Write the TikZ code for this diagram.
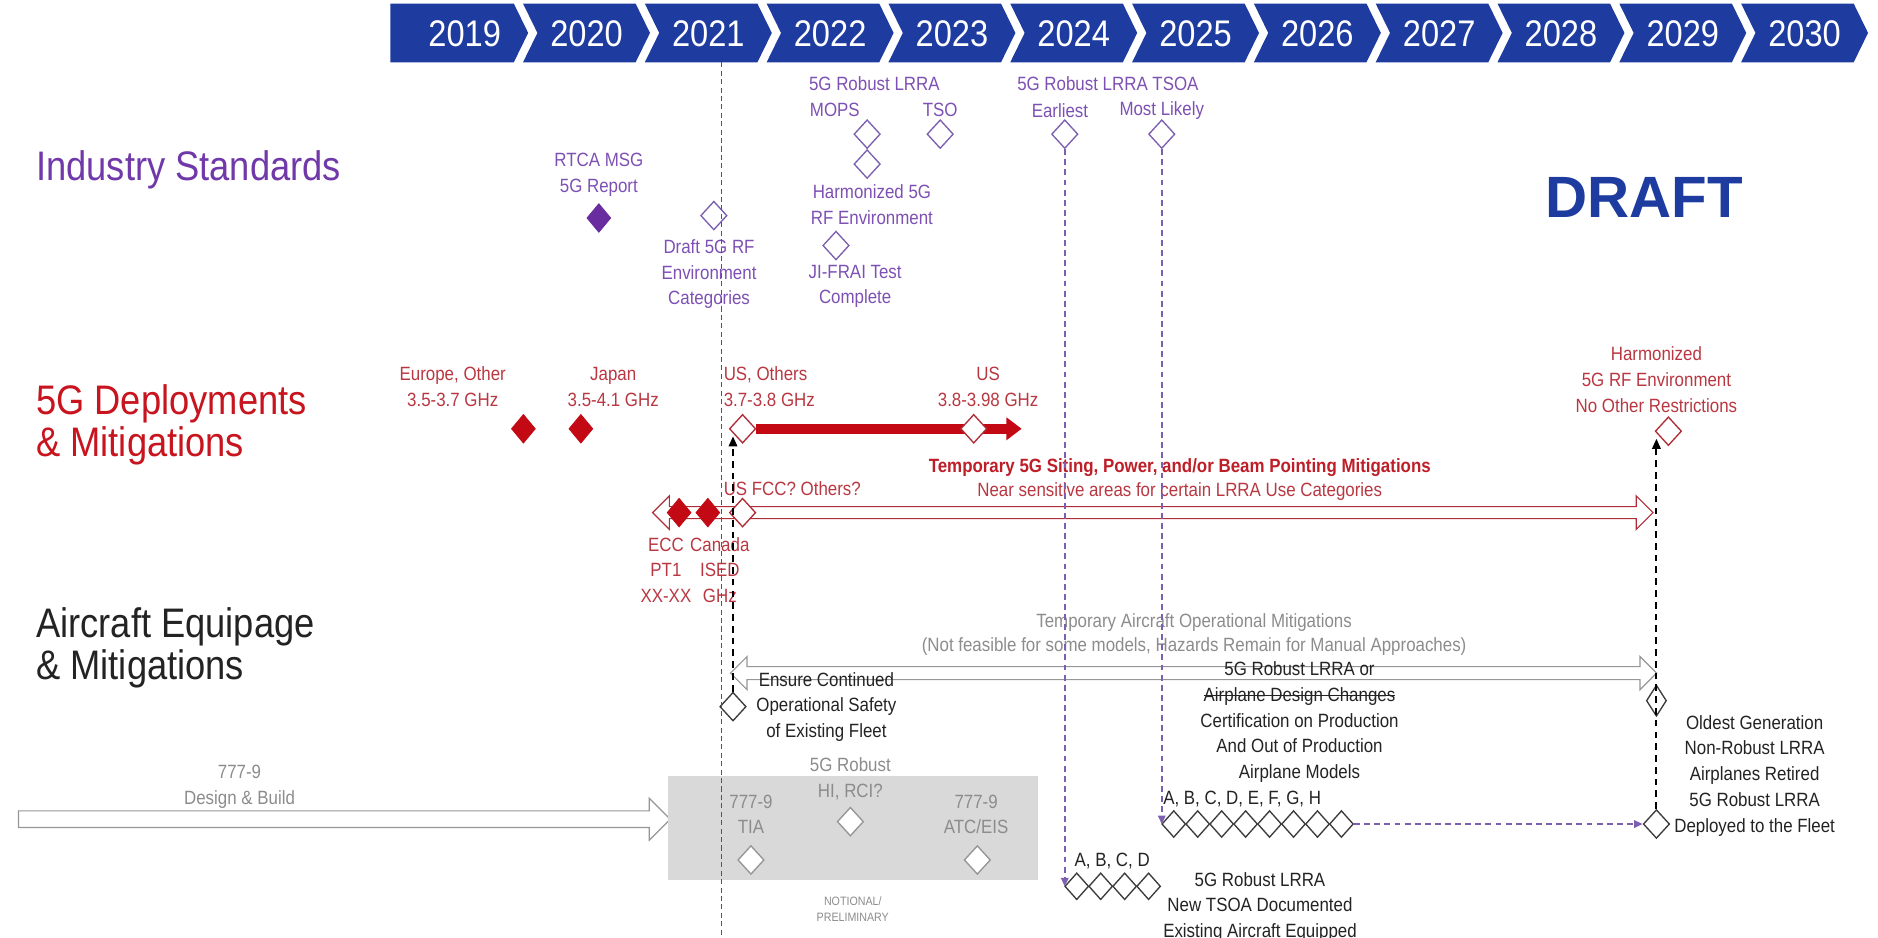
\documentclass[tikz,border=0pt]{standalone}
\usepackage{fontspec}
\setmainfont{Liberation Sans}[FakeStretch=0.88]
\newfontfamily\draftfont{Liberation Sans}
\usetikzlibrary{shapes.geometric,shapes.arrows,arrows.meta}

\definecolor{bannerblue}{RGB}{30,60,160}
\definecolor{purphead}{RGB}{112,56,168}
\definecolor{purptext}{RGB}{125,80,180}
\definecolor{purpfill}{RGB}{105,45,160}
\definecolor{purpline}{RGB}{125,95,175}
\definecolor{redhead}{RGB}{200,20,30}
\definecolor{redtext}{RGB}{185,55,65}
\definecolor{redbold}{RGB}{190,30,40}
\definecolor{redfill}{RGB}{195,10,20}
\definecolor{redline}{RGB}{175,45,55}
\definecolor{graytext}{RGB}{140,140,140}
\definecolor{grayline}{RGB}{150,150,150}
\definecolor{boxgray}{RGB}{217,217,217}
\definecolor{darkline}{RGB}{60,60,60}
\definecolor{blacktext}{RGB}{35,35,35}
\definecolor{todayblue}{RGB}{60,85,160}

\newcommand{\lblfont}{\fontsize{11.4}{15.2}\selectfont}
\newcommand{\hdfont}{\fontsize{24.5}{25}\selectfont}
\newcommand{\yrfont}{\fontsize{22}{24}\selectfont}
\newcommand{\strk}[1]{\leavevmode\setbox0\hbox{#1}\rlap{\rule[0.3em]{\wd0}{0.6pt}}\box0}

\tikzset{
	lbl/.style={align=center, font=\lblfont, inner sep=0pt},
	hd/.style={anchor=west, align=left, font=\hdfont, inner sep=0pt},
	ms/.style={diamond, draw=#1, line width=0.8pt, fill=white, minimum width=0.55cm, minimum height=0.6cm, inner sep=0pt},
	msfull/.style={diamond, draw=#1, fill=#1, line width=0.5pt, minimum width=0.5cm, minimum height=0.6cm, inner sep=0pt},
	mssmall/.style={diamond, draw=#1, line width=0.8pt, fill=white, minimum width=0.5cm, minimum height=0.56cm, inner sep=0pt},
	purpdash/.style={purpline, line width=0.9pt, dash pattern=on 3.5pt off 2.5pt, -{Triangle[length=5pt,width=4.5pt]}},
	blkdash/.style={black, line width=1.2pt, dash pattern=on 4pt off 3pt, -{Triangle[length=6pt,width=5pt]}},
}

\begin{document}
\begin{tikzpicture}[x=0.025cm, y=-0.025cm]
		\useasboundingbox (0,0) rectangle (1568,783);
		% Years
		\foreach \yr [count=\i from 0] in {2019,...,2030} {
			\pgfmathsetmacro\c{387+101.7*\i}
			\ifnum\i=0
				\fill[bannerblue] (326,3) -- (\c+42,3) -- (\c+54,27.5) -- (\c+42,52) -- (326,52) -- cycle;
			\else
				\fill[bannerblue] (\c-52,3) -- (\c+42,3) -- (\c+54,27.5) -- (\c+42,52) -- (\c-52,52) -- (\c-40,27.5) -- cycle;
			\fi
			\node[font=\yrfont, text=white, inner sep=0pt] (y\yr) at (\c+1,28) {\yr};
		}
		\node[font=\draftfont\bfseries\fontsize{34.6}{36}\selectfont, text=bannerblue] (draft) at (1373,165) {DRAFT};

		% Industry standards
		\node[hd, text=purphead] (hInd) at (30,142) {Industry Standards};
		\node[lbl, text=purptext] (rtcaT) at (500,146) {RTCA MSG\\5G Report};
		\node[msfull=purpfill] (rtcaD) at (500,182) {};
		\node[ms=purpline] (draftD) at (596,180) {};
		\node[lbl, text=purptext] (draftT) at (592,229) {Draft 5G RF\\Environment\\Categories};
		\node[lbl, text=purptext] (lrraT) at (730,70) {5G Robust LRRA};
		\node[lbl, text=purptext] (mopsT) at (697,92) {MOPS};
		\node[lbl, text=purptext] (tsoT) at (785,92) {TSO};
		\node[ms=purpline] (mopsD) at (724,112) {};
		\node[ms=purpline] (tsoD) at (785,112) {};
		\node[ms=purpline] (harmD) at (724,137) {};
		\node[lbl, text=purptext] (harmT) at (728,171) {Harmonized 5G\\RF Environment};
		\node[ms=purpline] (jiD) at (698,205) {};
		\node[lbl, text=purptext] (jiT) at (714,239) {JI-FRAI Test\\Complete};
		\node[lbl, text=purptext] (tsoaT) at (925,70) {5G Robust LRRA TSOA};
		\node[lbl, text=purptext] (earlyT) at (885,92) {Earliest};
		\node[lbl, text=purptext] (likelyT) at (970,92) {Most Likely};
		\node[ms=purpline] (earlyD) at (889,112) {};
		\node[ms=purpline] (likelyD) at (970,112) {};

		% 5G deployments
		\node[hd, text=redhead] (hDep) at (30,355) {5G Deployments\\\& Mitigations};
		\node[lbl, text=redtext] (euT) at (378,323) {Europe, Other\\3.5-3.7 GHz};
		\node[lbl, text=redtext] (jpT) at (512,323) {Japan\\3.5-4.1 GHz};
		\node[msfull=redfill] (euD) at (437,358) {};
		\node[msfull=redfill] (jpD) at (485,358) {};
		\node[lbl, text=redtext, anchor=west, align=left] (usoT) at (604,323) {US, Others\\3.7-3.8 GHz};
		\node[lbl, text=redtext] (us398T) at (825,323) {US\\3.8-3.98 GHz};
		\node[ms=redline] (usoD) at (620,358) {};
		\coordinate (usEnd) at (853,358);
		\draw[redfill, line width=5.7pt, -{Triangle[length=9pt,width=13pt]}] (usoD.east) -- (usEnd);
		\node[ms=redline] (us398D) at (813,358) {};
		\node[lbl, text=redtext] (harmFT) at (1383,317) {Harmonized\\5G RF Environment\\No Other Restrictions};
		\node[ms=redline] (harmFD) at (1393,360) {};
		\node[lbl, text=redbold, font=\lblfont\bfseries] (tempT) at (985,390) {Temporary 5G Siting, Power, and/or Beam Pointing Mitigations};
		\node[lbl, text=redtext] (nearT) at (985,410) {Near sensitive areas for certain LRRA Use Categories};
		\node[lbl, text=redtext, anchor=west] (fccT) at (604,408) {US FCC? Others?};
		\node[double arrow, draw=redline, fill=white, line width=0.7pt, inner sep=3.2pt, double arrow head extend=6.4pt, minimum height=20.875cm] (redBar) at (962.5,428) {};
		\node[msfull=redfill] (eccD) at (567,428) {};
		\node[msfull=redfill] (canD) at (591,428) {};
		\node[ms=redline] (fccD) at (620,428) {};
		\node[lbl, text=redtext] (eccT) at (556,476) {ECC\\PT1\\XX-XX};
		\node[lbl, text=redtext] (canT) at (601,476) {Canada\\ISED\\GHz};

		% Aircraft equipage
		\node[hd, text=blacktext] (hAir) at (30,541) {Aircraft Equipage\\\& Mitigations};
		\node[lbl, text=graytext] (tacT) at (997,520) {Temporary Aircraft Operational Mitigations};
		\node[lbl, text=graytext] (nfT) at (997,540) {(Not feasible for some models, Hazards Remain for Manual Approaches)};
		\node[double arrow, draw=grayline, fill=white, line width=0.7pt, inner sep=3.5pt, double arrow head extend=6pt, minimum height=19.325cm] (grayBar) at (996.5,562) {};
		\node[ms=darkline] (ensD) at (612,590) {};
		\node[lbl, text=blacktext] (ensT) at (690,590) {Ensure Continued\\Operational Safety\\of Existing Fleet};
		\node[lbl, text=blacktext] (certT) at (1085,603) {5G Robust LRRA or\\\strk{Airplane Design Changes}\\Certification on Production\\And Out of Production\\Airplane Models};
		\node[lbl, text=blacktext, anchor=west] (ahT) at (971,667) {A, B, C, D, E, F, G, H};
		\foreach \k in {1,...,8}
			\node[mssmall=darkline] (ah\k) at (960+20*\k,688) {};
		\node[ms=darkline, fill=none, minimum width=0.42cm, minimum height=0.65cm] (oldD) at (1383,585) {};
		\node[lbl, text=blacktext] (oldT) at (1465,626) {Oldest Generation\\Non-Robust LRRA\\Airplanes Retired};
		\node[ms=darkline] (depD) at (1383,688) {};
		\node[lbl, text=blacktext] (depT) at (1465,680) {5G Robust LRRA\\Deployed to the Fleet};
		\node[lbl, text=blacktext, anchor=west] (adT) at (897,719) {A, B, C, D};
		\foreach \k in {1,...,4}
			\node[mssmall=darkline] (ad\k) at (879+20*\k,740) {};
		\node[lbl, text=blacktext] (newT) at (1052,757) {5G Robust LRRA\\New TSOA Documented\\Existing Aircraft Equipped};

		% 777-9
		\node[single arrow, draw=grayline, fill=white, line width=0.7pt, inner sep=4.6pt, single arrow head extend=7.5pt, minimum height=13.6cm] (dbBar) at (284,684) {};
		\node[lbl, text=graytext] (dbT) at (200,657) {777-9\\Design \& Build};
		\node[fill=boxgray, minimum width=7.725cm, minimum height=2.175cm, inner sep=0pt] (nbox) at (712.5,691.5) {};
		\node[lbl, text=graytext] (hiT) at (710,650) {5G Robust\\HI, RCI?};
		\node[ms=grayline] (hiD) at (710,686) {};
		\node[lbl, text=graytext] (tiaT) at (627,680) {777-9\\TIA};
		\node[ms=grayline] (tiaD) at (627,718) {};
		\node[lbl, text=graytext] (atcT) at (815,680) {777-9\\ATC/EIS};
		\node[ms=grayline] (atcD) at (816,718) {};
		\node[align=center, inner sep=0pt, text=graytext, font=\fontsize{7.2}{9.5}\selectfont] (notT) at (712,759) {NOTIONAL/\\PRELIMINARY};

		% Links
		\coordinate (todayTop) at (602,52);
		\coordinate (todayBot) at (602,783);
		\draw[todayblue, line width=0.5pt, dash pattern=on 3pt off 2pt] (todayTop) -- (todayBot);
		\draw[purpdash] (earlyD.south) -- (earlyD.south |- ad1.west);
		\draw[purpdash] (likelyD.south) -- (likelyD.south |- ah1.west);
		\draw[purpdash] (ah8.east) -- (depD.west);
		\draw[blkdash] (ensD.north) -- (ensD.north |- usoD.south west);
		\draw[blkdash] (depD.north) -- (depD.north |- harmFD.south west);
\end{tikzpicture}
\end{document}
